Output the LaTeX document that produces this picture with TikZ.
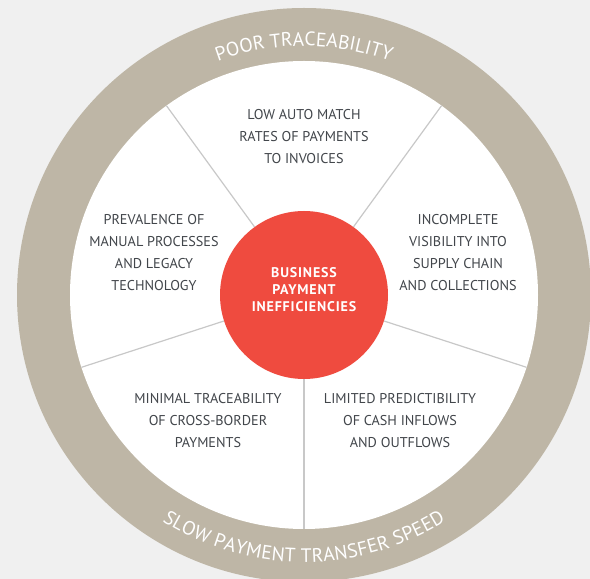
\documentclass[tikz,border=0pt]{standalone}
\usepackage{fontspec}
\setmainfont{PT Sans}
\usetikzlibrary{decorations.text,calc}
\definecolor{bgc}{HTML}{F0F0F0}
\definecolor{ringc}{HTML}{BEB6A6}
\definecolor{redc}{HTML}{EF4B3F}
\definecolor{txtc}{HTML}{42464B}
\definecolor{spokec}{HTML}{C8C8C8}
\newcommand\ringfont{\fontsize{19.5}{21}\selectfont}
\begin{document}
\begin{tikzpicture}[x=1pt,y=1pt,
  seglabel/.style={align=center, text=txtc, font=\fontsize{14.2}{22}\selectfont, inner sep=0pt},
  coretxt/.style={align=center, text=white, font=\bfseries\fontsize{14}{17}\selectfont\addfontfeature{LetterSpace=6}, inner sep=0pt},
  spoke/.style={draw=spokec, line width=1.2pt},
  corecircle/.style={circle, fill=redc, minimum size=168pt, inner sep=0pt},
  ringtext/.style 2 args={decorate, decoration={text effects along path, text={#1}, text align=center,
     text effects/.cd, text along path, character widths={inner xsep=#2, font=\ringfont},
     characters={text=white, font=\ringfont, inner xsep=#2}}}
]
\useasboundingbox (0,0) rectangle (590,579);
\clip (0,0) rectangle (590,579);
\fill[bgc] (0,0) rectangle (590,579);
\coordinate (C) at (304,284);
\fill[ringc] (C) circle (287);
\fill[white] (C) circle (234);

\node[corecircle] (core) at (C) {};
\foreach \a in {54,126,198,270,342}{
  \coordinate (rim\a) at ($(C)+(\a:234)$);
}
\foreach \a in {54,126,198,270,342}{
  \draw[spoke] (core.\a) -- (rim\a);
}

\node[coretxt] (coretext) at (304,289) {BUSINESS\\PAYMENT\\INEFFICIENCIES};

\node[seglabel] (top) at (304,442) {LOW AUTO MATCH\\RATES OF PAYMENTS\\TO INVOICES};
\node[seglabel] (left) at (154,326) {PREVALENCE OF\\MANUAL PROCESSES\\AND LEGACY\\TECHNOLOGY};
\node[seglabel] (right) at (458,326) {INCOMPLETE\\VISIBILITY INTO\\SUPPLY CHAIN\\AND COLLECTIONS};
\node[seglabel] (botleft) at (208,158) {MINIMAL TRACEABILITY\\OF CROSS-BORDER\\PAYMENTS};
\node[seglabel] (botright) at (400,158) {LIMITED PREDICTIBILITY\\OF CASH INFLOWS\\AND OUTFLOWS};

\path[ringtext={POOR TRACEABILITY}{0pt}] (C) ++(160:249) arc[start angle=160, end angle=20, radius=249];
\path[ringtext={SLOW PAYMENT TRANSFER SPEED}{0.12pt}] (C) ++(200:267) arc[start angle=200, end angle=340, radius=267];
\end{tikzpicture}
\end{document}
